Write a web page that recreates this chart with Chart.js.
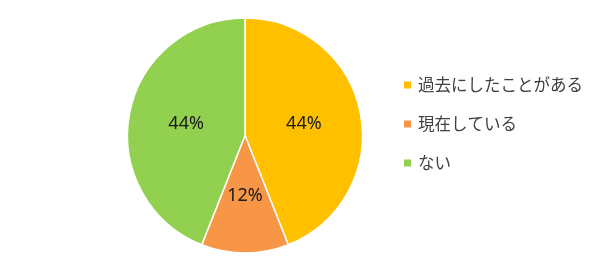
<!DOCTYPE html>
<html>
<head>
<meta charset="utf-8">
<script src="https://cdn.jsdelivr.net/npm/chart.js@4/dist/chart.umd.min.js"></script>
<style>
html,body{margin:0;padding:0;background:#fff;}
#wrap{width:600px;height:270px;position:relative;}
</style>
</head>
<body>
<div id="wrap"><canvas id="c" width="600" height="270"></canvas></div>
<script>
const categories = ['過去にしたことがある', '現在している', 'ない'];
const values = [44, 12, 44];
const colors = ['#FFC000', '#F79646', '#92D050'];

const sliceLabels = {
  id: 'sliceLabels',
  afterDatasetsDraw(chart) {
    const ctx = chart.ctx;
    const meta = chart.getDatasetMeta(0);
    const data = chart.data.datasets[0].data;
    const total = data.reduce((a, b) => a + b, 0);
    ctx.save();
    ctx.font = '18px "Noto Sans", sans-serif';
    ctx.fillStyle = '#1a1a1a';
    ctx.textAlign = 'center';
    ctx.textBaseline = 'middle';
    meta.data.forEach((arc, i) => {
      const p = arc.getProps(['x', 'y', 'startAngle', 'endAngle', 'outerRadius'], true);
      const mid = (p.startAngle + p.endAngle) / 2;
      const r = p.outerRadius * 0.51;
      const pct = Math.round(data[i] / total * 100) + '%';
      ctx.fillText(pct, p.x + Math.cos(mid) * r, p.y + Math.sin(mid) * r);
    });
    ctx.restore();
  }
};

const sideLegend = {
  id: 'sideLegend',
  afterDraw(chart) {
    const ctx = chart.ctx;
    const labels = chart.data.labels;
    const bg = chart.data.datasets[0].backgroundColor;
    ctx.save();
    ctx.font = '16.5px "Noto Sans CJK JP", sans-serif';
    ctx.textBaseline = 'middle';
    ctx.textAlign = 'left';
    const x0 = 404, y0 = 85, step = 39;
    labels.forEach((lab, i) => {
      const y = y0 + i * step;
      ctx.fillStyle = bg[i];
      ctx.fillRect(x0, y - 3.5, 7, 7);
      ctx.fillStyle = '#404040';
      ctx.fillText(lab, x0 + 14, y);
    });
    ctx.restore();
  }
};

new Chart(document.getElementById('c'), {
  type: 'pie',
  data: {
    labels: categories,
    datasets: [{
      data: values,
      backgroundColor: colors,
      borderColor: '#ffffff',
      borderWidth: 1.5
    }]
  },
  options: {
    responsive: false,
    animation: false,
    radius: 117.5,
    layout: { padding: { left: 0, right: 110, top: 1, bottom: 0 } },
    plugins: {
      legend: { display: false },
      tooltip: { enabled: false }
    }
  },
  plugins: [sliceLabels, sideLegend]
});
</script>
</body>
</html>
